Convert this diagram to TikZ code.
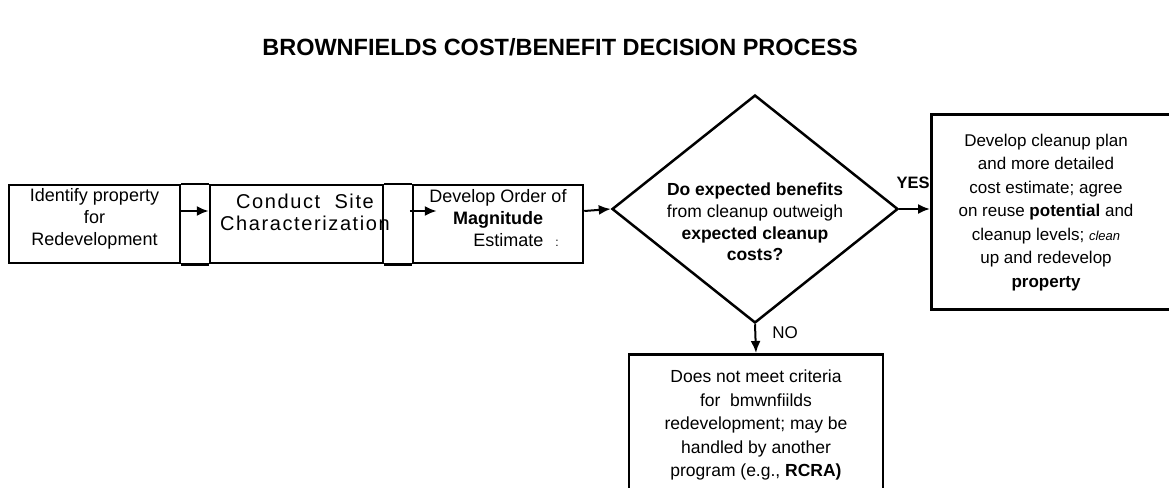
\documentclass[tikz,border=0pt]{standalone}
\usepackage{fontspec}
\setmainfont{Liberation Sans}
\usetikzlibrary{arrows.meta}
\usetikzlibrary{positioning}
\usetikzlibrary{shapes.geometric}
\tikzstyle{every node}=[font=\fontsize{17}{23.5}\selectfont,align=center,inner sep=0pt]
\tikzstyle{boxframe}=[draw,line width=2.5pt]
\tikzstyle{flow}=[line width=2pt,-{Latex[length=12pt,width=10pt]}]

\begin{document}
\begin{tikzpicture}[x=1pt,y=-1pt]
\useasboundingbox (0,0) rectangle (1169,487);
\node[font=\fontsize{23.5}{28}\bfseries] (title) at (560,47) {BROWNFIELDS COST/BENEFIT DECISION PROCESS};

\node[boxframe,minimum width=171,minimum height=78] (ident) at (94.5,224) {};
\node[font=\fontsize{18}{22}\selectfont] (identtxt) at (94.5,219) {Identify property\\for\\Redevelopment};

\node[boxframe,minimum width=173,minimum height=78] (site) at (296.5,224) {};
\node[font=\fontsize{20}{22}\selectfont\addfontfeatures{LetterSpace=8}] (sitetxt) at (305,212)
{Conduct~~Site\\Characterization};

\node[boxframe,minimum width=170,minimum height=78] (order) at (498,224) {};
\node[font=\fontsize{18}{22}\selectfont] (ordertxt) at (498,218)
{Develop Order of\\\textbf{Magnitude}\\\hspace*{36pt}Estimate\hspace*{12pt}{\fontsize{12}{12}\selectfont:}};

\draw[boxframe] (ident.north east)--(site.north west) (ident.south east)--(site.south west);
\draw[boxframe] (site.north east)--(order.north west) (site.south east)--(order.south west);

\node[boxframe,diamond,minimum width=286,minimum height=228] (decide) at (755,209) {};
\node[font=\fontsize{17.5}{21.7}\bfseries] (decidetxt) at (755,222)
{Do expected benefits\\{\mdseries from cleanup outweigh}\\expected cleanup\\costs?};

\node[boxframe,minimum width=245,minimum height=195,anchor=north west] (plan) at (930,113) {};
\node (plantxt) at (1046,212.5)
{Develop cleanup plan\\and more detailed\\cost estimate; agree\\on reuse \textbf{potential} and\\cleanup levels; {\fontsize{13}{13}\selectfont\itshape clean}\\up and redevelop\\\textbf{property}};

\node[boxframe,minimum width=254,minimum height=150,anchor=north] (reject) at (756,353) {};
\node[font=\fontsize{17.5}{23.5}\selectfont] (rejecttxt) at (756,425)
{Does not meet criteria\\for~~bmwnfiilds\\redevelopment; may be\\handled by another\\program (e.g., \textbf{RCRA)}};

\draw[flow] ([yshift=13pt]ident.east)--([yshift=13pt]site.west);
\draw[flow] ([xshift=-2pt,yshift=13pt]order.west)--([xshift=25pt,yshift=13pt]order.west);
\draw[flow] ([yshift=13pt]order.east)--(decide.west);
\draw[flow] (decide.east)--(decide.east -| plan.west);
\draw[flow] (decide.south)--(reject.north);

\node[font=\fontsize{16.5}{20}\bfseries] (yes) at (913,183) {YES};
\node (no) at (785,333) {NO};
\end{tikzpicture}
\end{document}
